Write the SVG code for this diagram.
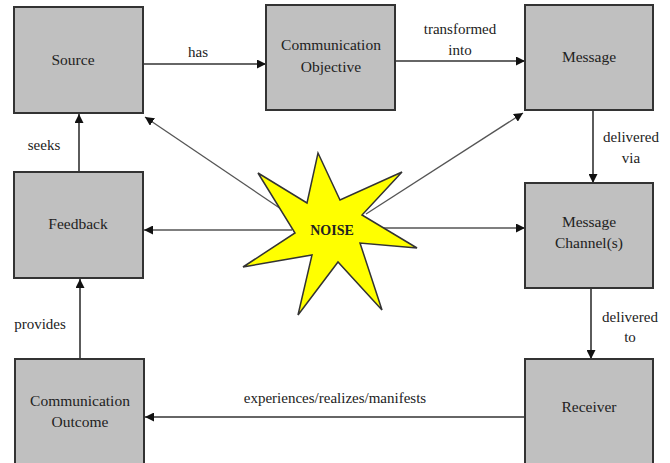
<svg xmlns="http://www.w3.org/2000/svg" width="670" height="463" viewBox="0 0 670 463" font-family="'Liberation Serif', 'Times New Roman', serif">
<style>
.box{fill:#c0c0c0;stroke:#333;stroke-width:2}
.t{font-size:15.5px;fill:#222;text-anchor:middle}
.l{font-size:15px;fill:#222;text-anchor:middle}
.c{stroke:#333;stroke-width:1.6;fill:none;marker-end:url(#ah)}
.n{stroke:#555;stroke-width:1.3;fill:none;marker-end:url(#ah)}
</style>
<defs>
<marker id="ah" viewBox="0 0 10 10" refX="10" refY="5" markerWidth="9" markerHeight="9" markerUnits="userSpaceOnUse" orient="auto">
<path d="M0,0 L10,5 L0,10 z" fill="#111"/>
</marker>
</defs>
<rect width="670" height="463" fill="#fff"/>
<g id="connectors">
<line class="c" x1="143" y1="64" x2="266" y2="64"/>
<line class="c" x1="395" y1="61" x2="525" y2="61"/>
<line class="c" x1="593" y1="110" x2="593" y2="183"/>
<line class="c" x1="591" y1="288" x2="591" y2="359"/>
<line class="c" x1="525" y1="417" x2="145" y2="417"/>
<line class="c" x1="80" y1="359" x2="80" y2="279"/>
<line class="c" x1="79" y1="172" x2="79" y2="114"/>
<line class="n" x1="292" y1="230" x2="144" y2="230"/>
<line class="n" x1="370" y1="228" x2="525" y2="228"/>
<line class="n" x1="284" y1="211" x2="145" y2="117"/>
<line class="n" x1="366" y1="214" x2="523" y2="113"/>
<text class="l" x="198" y="57">has</text>
<text class="l" x="460" y="34">transformed</text>
<text class="l" x="460" y="55">into</text>
<text class="l" x="631" y="142">delivered</text>
<text class="l" x="631" y="163">via</text>
<text class="l" x="630" y="322">delivered</text>
<text class="l" x="630" y="342">to</text>
<text class="l" x="335" y="403">experiences/realizes/manifests</text>
<text class="l" x="44" y="150">seeks</text>
<text class="l" x="40" y="329">provides</text>
</g>
<g id="source"><rect class="box" x="14" y="7" width="129" height="106"/><text class="t" x="73" y="65">Source</text></g>
<g id="objective"><rect class="box" x="266" y="5" width="129" height="105"/><text class="t" x="331" y="50">Communication</text><text class="t" x="331" y="72">Objective</text></g>
<g id="message"><rect class="box" x="525" y="5" width="128" height="105"/><text class="t" x="589" y="62">Message</text></g>
<g id="feedback"><rect class="box" x="14" y="172" width="129" height="106"/><text class="t" x="78" y="229">Feedback</text></g>
<g id="channel"><rect class="box" x="525" y="183" width="128" height="105"/><text class="t" x="589" y="227">Message</text><text class="t" x="589" y="248">Channel(s)</text></g>
<g id="outcome"><rect class="box" x="15" y="359" width="129" height="112"/><text class="t" x="80" y="406">Communication</text><text class="t" x="80" y="427">Outcome</text></g>
<g id="receiver"><rect class="box" x="525" y="359" width="128" height="112"/><text class="t" x="589" y="412">Receiver</text></g>
<g id="noise">
<polygon points="318,153 340,200 402,172 362,215 417,248 360,243 382,310 338,262 298,315 312,255 243,267 295,233 258,173 307,203" fill="#ffff00" stroke="#333" stroke-width="1.5"/>
<text x="332" y="235" font-size="14" font-weight="bold" fill="#222" text-anchor="middle">NOISE</text>
</g>
</svg>
